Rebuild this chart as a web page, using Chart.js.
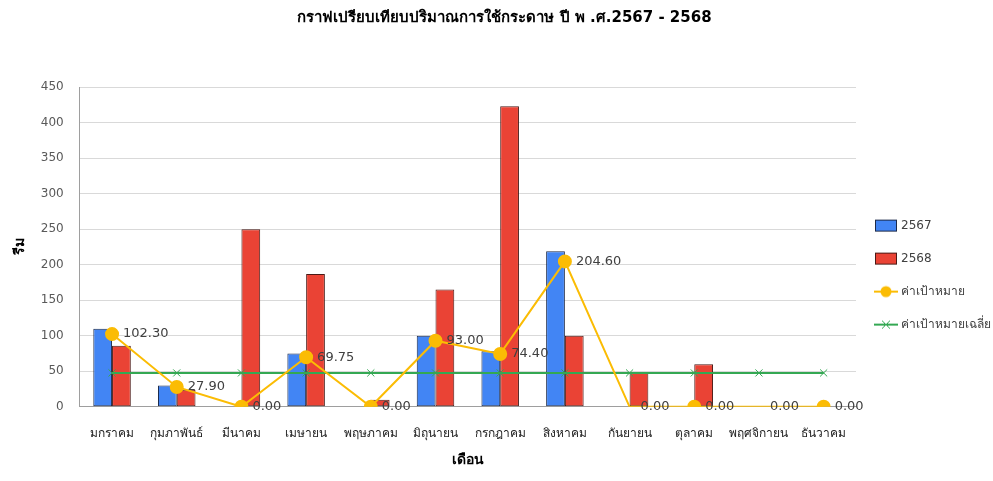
<!DOCTYPE html>
<html>
<head>
<meta charset="utf-8">
<script src="https://cdn.jsdelivr.net/npm/chart.js@4/dist/chart.umd.min.js"></script>
<style>
  body { margin: 0; background: #fff; }
  #wrap { width: 993px; height: 481px; }
</style>
</head>
<body>
<div id="wrap"><canvas id="paperChart"></canvas></div>
<script>
// ข้อมูลกราฟ
const months = ['มกราคม', 'กุมภาพันธ์', 'มีนาคม', 'เมษายน', 'พฤษภาคม', 'มิถุนายน',
  'กรกฎาคม', 'สิงหาคม', 'กันยายน', 'ตุลาคม', 'พฤศจิกายน', 'ธันวาคม'];
const use2567 = [110, 30, 0, 75, 0, 100, 78, 219, 0, 0, 0, 0];
const use2568 = [86, 24, 250, 187, 10, 165, 423, 100, 48, 60, 0, 0];
const target = [102.30, 27.90, 0.00, 69.75, 0.00, 93.00, 74.40, 204.60, 0.00, 0.00, 0.00, 0.00];
const targetAvg = [47.66, 47.66, 47.66, 47.66, 47.66, 47.66, 47.66, 47.66, 47.66, 47.66, 47.66, 47.66];
const yTicks = [0, 50, 100, 150, 200, 250, 300, 350, 400, 450];

const FONT = "Tahoma, 'DejaVu Sans', 'Noto Sans', sans-serif";

// ไอคอนสำหรับ legend
function legendIcon(kind, color, border) {
  const c = document.createElement('canvas');
  c.width = 24; c.height = 14;
  const g = c.getContext('2d');
  if (kind === 'bar') {
    g.fillStyle = color;
    g.fillRect(1, 1, 22, 12);
    g.strokeStyle = border;
    g.lineWidth = 1;
    g.strokeRect(1.5, 1.5, 21, 11);
  } else {
    g.strokeStyle = color;
    g.lineWidth = 2;
    g.beginPath(); g.moveTo(0, 7); g.lineTo(24, 7); g.stroke();
    if (kind === 'dot') {
      g.fillStyle = color;
      g.beginPath(); g.arc(12, 7, 5.5, 0, Math.PI * 2); g.fill();
    } else {
      g.lineWidth = 1;
      g.beginPath();
      g.moveTo(8, 3); g.lineTo(16, 11);
      g.moveTo(16, 3); g.lineTo(8, 11);
      g.stroke();
    }
  }
  return c;
}
const icons = [
  legendIcon('bar', '#4285f4', '#1c2a4a'),
  legendIcon('bar', '#ea4335', '#4a1a16'),
  legendIcon('dot', '#fbbc04'),
  legendIcon('cross', '#34a853')
];

// ป้ายค่าของเส้นเป้าหมาย
const targetLabels = {
  id: 'targetLabels',
  afterDatasetsDraw(chart) {
    const meta = chart.getDatasetMeta(2);
    const ctx = chart.ctx;
    ctx.save();
    ctx.font = '13px ' + FONT;
    ctx.fillStyle = '#404040';
    ctx.textBaseline = 'middle';
    ctx.textAlign = 'left';
    meta.data.forEach((pt, i) => {
      ctx.fillText(target[i].toFixed(2), pt.x + 11, pt.y);
    });
    ctx.restore();
  }
};

const ctx = document.getElementById('paperChart').getContext('2d');
const paperChart = new Chart(ctx, {
  type: 'bar',
  data: {
    labels: months,
    datasets: [
      {
        label: '2567',
        data: use2567,
        backgroundColor: '#4285f4',
        borderColor: '#1c2a4a',
        borderWidth: 1,
        borderSkipped: false,
        order: 3
      },
      {
        label: '2568',
        data: use2568,
        backgroundColor: '#ea4335',
        borderColor: '#4a1a16',
        borderWidth: 1,
        borderSkipped: false,
        order: 4
      },
      {
        type: 'line',
        label: 'ค่าเป้าหมาย',
        data: target,
        borderColor: '#fbbc04',
        backgroundColor: '#fbbc04',
        borderWidth: 2,
        pointRadius: [6, 6, 6, 6, 6, 6, 6, 6, 0, 6, 0, 6],
        pointHoverRadius: 6,
        order: 1
      },
      {
        type: 'line',
        label: 'ค่าเป้าหมายเฉลี่ย',
        data: targetAvg,
        borderColor: '#34a853',
        backgroundColor: '#34a853',
        borderWidth: 2,
        pointStyle: 'crossRot',
        pointRadius: 5,
        pointBorderWidth: 1,
        order: 2
      }
    ]
  },
  options: {
    responsive: true,
    maintainAspectRatio: false,
    animation: false,
    datasets: {
      bar: { categoryPercentage: 0.58, barPercentage: 1 }
    },
    layout: { padding: { left: 8, right: -8, top: 4, bottom: 8 } },
    plugins: {
      title: {
        display: true,
        text: 'กราฟเปรียบเทียบปริมาณการใช้กระดาษ ปี พ .ศ.2567 - 2568',
        color: '#000',
        font: { family: FONT, size: 15, weight: 'bold' },
        padding: { top: 5, bottom: 60 }
      },
      legend: {
        position: 'right',
        align: 'center',
        title: {
          display: true,
          text: ' ',
          font: { size: 1 },
          padding: { top: 0, bottom: 72 }
        },
        labels: {
          color: '#404040',
          font: { family: FONT, size: 12 },
          usePointStyle: true,
          pointStyleWidth: 18,
          boxHeight: 13,
          padding: 21,
          generateLabels(chart) {
            return chart.data.datasets.map((ds, i) => ({
              text: ds.label,
              pointStyle: icons[i],
              fontColor: '#404040',
              datasetIndex: i,
              hidden: !chart.isDatasetVisible(i)
            }));
          }
        }
      },
      tooltip: { enabled: false }
    },
    scales: {
      x: {
        grid: { display: false, drawTicks: false },
        border: { color: '#9e9e9e' },
        ticks: {
          color: '#222',
          font: { family: FONT, size: 12 },
          maxRotation: 0,
          autoSkip: false,
          padding: 20
        },
        title: {
          display: true,
          text: 'เดือน',
          color: '#000',
          font: { family: FONT, size: 14, weight: 'bold' },
          padding: { top: -9, bottom: 4 }
        }
      },
      y: {
        min: 0,
        max: 450,
        afterBuildTicks(axis) {
          axis.ticks = yTicks.map(v => ({ value: v }));
        },
        grid: { color: '#d9d9d9', drawTicks: false },
        border: { color: '#9e9e9e' },
        ticks: {
          color: '#595959',
          font: { family: FONT, size: 12 },
          padding: 16
        },
        title: {
          display: true,
          text: 'รีม',
          color: '#000',
          font: { family: FONT, size: 14, weight: 'bold' },
          padding: { top: 4, bottom: -4 }
        }
      }
    }
  },
  plugins: [targetLabels]
});
</script>
</body>
</html>
